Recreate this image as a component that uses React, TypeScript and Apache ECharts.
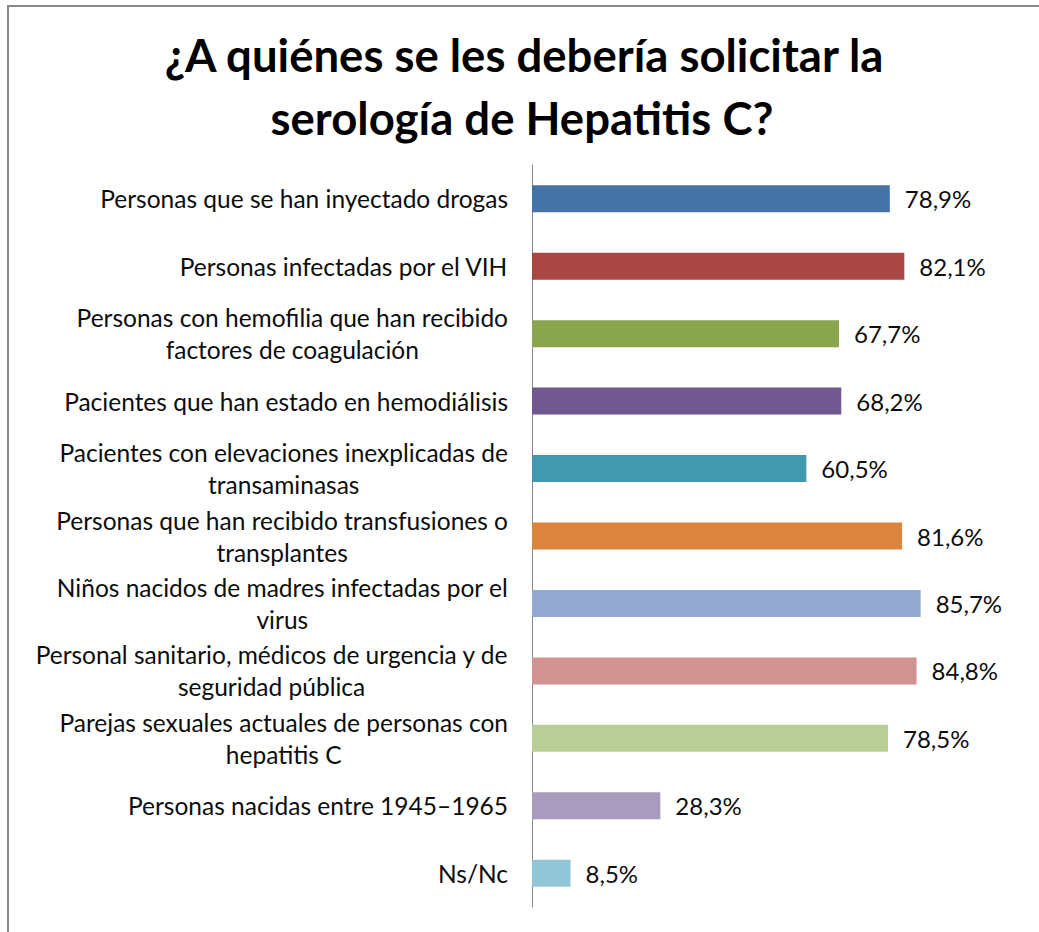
import React, { useEffect, useRef } from "react";
import * as echarts from "echarts";

const titleLines = ["¿A quiénes se les debería solicitar la", "serología de Hepatitis C?"];

const categories = [
  "Personas que se han inyectado drogas",
  "Personas infectadas por el VIH",
  "Personas con hemofilia que han recibido\nfactores de coagulación",
  "Pacientes que han estado en hemodiálisis",
  "Pacientes con elevaciones inexplicadas de\ntransaminasas",
  "Personas que han recibido transfusiones o\ntransplantes",
  "Niños nacidos de madres infectadas por el\nvirus",
  "Personal sanitario, médicos de urgencia y de\nseguridad pública",
  "Parejas sexuales actuales de personas con\nhepatitis C",
  "Personas nacidas entre 1945–1965",
  "Ns/Nc",
];

const values = [78.9, 82.1, 67.7, 68.2, 60.5, 81.6, 85.7, 84.8, 78.5, 28.3, 8.5];

const barColors = [
  "#4572A7",
  "#AA4643",
  "#89A54E",
  "#71588F",
  "#4198AF",
  "#DB843D",
  "#93A9CF",
  "#D19392",
  "#B9CD96",
  "#A99BBD",
  "#92C5D6",
];

const FONT = "Lato, 'Open Sans', sans-serif";
const LABEL_SIZE = 24.5;

function measureBlock(text: string): number {
  const c = document.createElement("canvas");
  const ctx = c.getContext("2d");
  if (!ctx) return 0;
  ctx.font = `${LABEL_SIZE}px ${FONT}`;
  return Math.max(...text.split("\n").map((l) => ctx.measureText(l).width));
}

export default function App() {
  const ref = useRef<HTMLDivElement>(null);

  useEffect(() => {
    document.body.style.margin = "0";
    if (!ref.current) return;
    const chart = echarts.init(ref.current, null, { renderer: "svg" });
    const catData = categories.map((name) => {
      const w = measureBlock(name);
      return {
        value: name,
        textStyle: { align: "center", padding: [0, w, 0, 0] },
      };
    });
    chart.setOption({
      animation: false,
      backgroundColor: "#ffffff",
      graphic: [
        {
          type: "rect",
          shape: { x: 8, y: 6, width: 1200, height: 1200 },
          style: { fill: "none", stroke: "#878787", lineWidth: 2 },
          silent: true,
        },
        {
          type: "text",
          x: 524,
          y: 54,
          style: {
            text: titleLines[0],
            fontFamily: FONT,
            fontWeight: "bold",
            fontSize: 45.5,
            fill: "#000000",
            align: "center",
            verticalAlign: "middle",
          },
        },
        {
          type: "text",
          x: 522,
          y: 117,
          style: {
            text: titleLines[1],
            fontFamily: FONT,
            fontWeight: "bold",
            fontSize: 45.5,
            fill: "#000000",
            align: "center",
            verticalAlign: "middle",
          },
        },
      ],
      grid: { left: 532, right: 53.5, top: 165, bottom: 25, containLabel: false },
      xAxis: {
        type: "value",
        min: 0,
        max: 100,
        show: false,
      },
      yAxis: {
        type: "category",
        data: catData,
        inverse: true,
        axisLine: { show: true, lineStyle: { color: "#868686", width: 1 } },
        axisTick: { show: false },
        axisLabel: {
          margin: 24,
          fontFamily: FONT,
          fontSize: LABEL_SIZE,
          lineHeight: 32,
          color: "#0d0d0d",
        },
      },
      series: [
        {
          type: "bar",
          data: values.map((v, i) => ({ value: v, itemStyle: { color: barColors[i] } })),
          barCategoryGap: "60%",
          label: {
            show: true,
            position: "right",
            distance: 15,
            fontFamily: FONT,
            fontSize: 24,
            color: "#0d0d0d",
            formatter: (p: any) => p.value.toFixed(1).replace(".", ",") + "%",
          },
        },
      ],
    });
    return () => chart.dispose();
  }, []);

  return <div ref={ref} style={{ width: 1039, height: 932 }} />;
}
